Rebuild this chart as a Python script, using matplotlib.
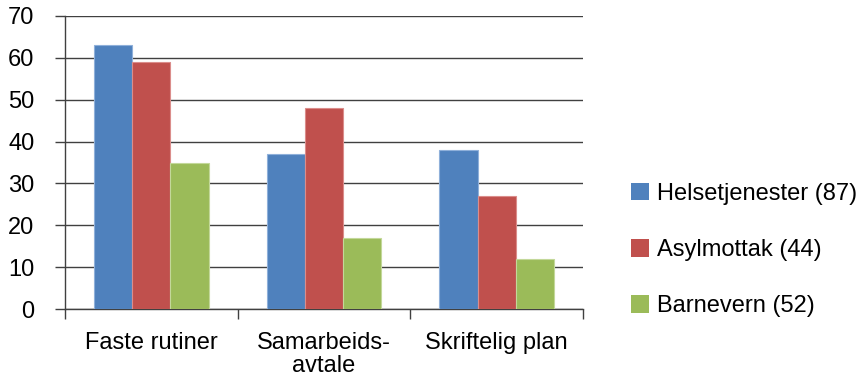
import numpy as np
import matplotlib
matplotlib.use("Agg")
import matplotlib.pyplot as plt

categories = ["Faste rutiner", "Samarbeids-\navtale", "Skriftelig plan"]
series_names = ["Helsetjenester (87)", "Asylmottak (44)", "Barnevern (52)"]
helse = [63, 37, 38]
asyl = [59, 48, 27]
barnevern = [35, 17, 12]
y_ticks = [0, 10, 20, 30, 40, 50, 60, 70]

colors = ["#4F81BD", "#C0504D", "#9BBB59"]
edges = ["#8FB0DA", "#DB8D8B", "#C3D89A"]

plt.rcParams["font.family"] = ["Liberation Sans", "DejaVu Sans"]
fs = 17

fig = plt.figure(figsize=(8.63, 3.77), dpi=100)
ax = fig.add_axes([65 / 863, 1 - 309.3 / 377, (583 - 65) / 863, (309.3 - 15.7) / 377])

x = np.arange(len(categories))
w = 0.222
for i, (vals, c, ec, name) in enumerate(zip([helse, asyl, barnevern], colors, edges, series_names)):
    ax.bar(x + (i - 1) * w, vals, width=w, color=c, edgecolor=ec, linewidth=0.8,
           label=name, zorder=3)

ax.set_xlim(-0.5, len(categories) - 0.5)
ax.set_ylim(0, 70)
ax.set_yticks(y_ticks)
ax.set_yticklabels([str(v) for v in y_ticks], fontsize=fs)

ax.set_xticks(x)
ax.set_xticklabels(categories, fontsize=fs, linespacing=1.08)
ax.set_xticks(np.arange(-0.5, len(categories)), minor=True)
ax.tick_params(axis="x", which="major", length=0, pad=16)
ax.tick_params(axis="x", which="minor", length=7, width=1.0, color="#404040", direction="out")
ax.tick_params(axis="y", length=7.5, width=1.0, color="#404040", direction="out", pad=14.5)

ax.grid(axis="y", color="#404040", linewidth=1.0, zorder=0)
ax.set_axisbelow(True)
for s in ["top", "right"]:
    ax.spines[s].set_visible(False)
for s in ["left", "bottom"]:
    ax.spines[s].set_color("#404040")
    ax.spines[s].set_linewidth(1.0)

leg = ax.legend(loc="center left", bbox_to_anchor=(631 / 863, 1 - 250 / 377),
                bbox_transform=fig.transFigure, frameon=False, fontsize=fs,
                handlelength=0.78, handleheight=0.78, handletextpad=0.33,
                labelspacing=1.45, borderpad=0, borderaxespad=0)
for h in leg.legend_handles:
    h.set_edgecolor("none")

fig.savefig("out.png", dpi=100)
